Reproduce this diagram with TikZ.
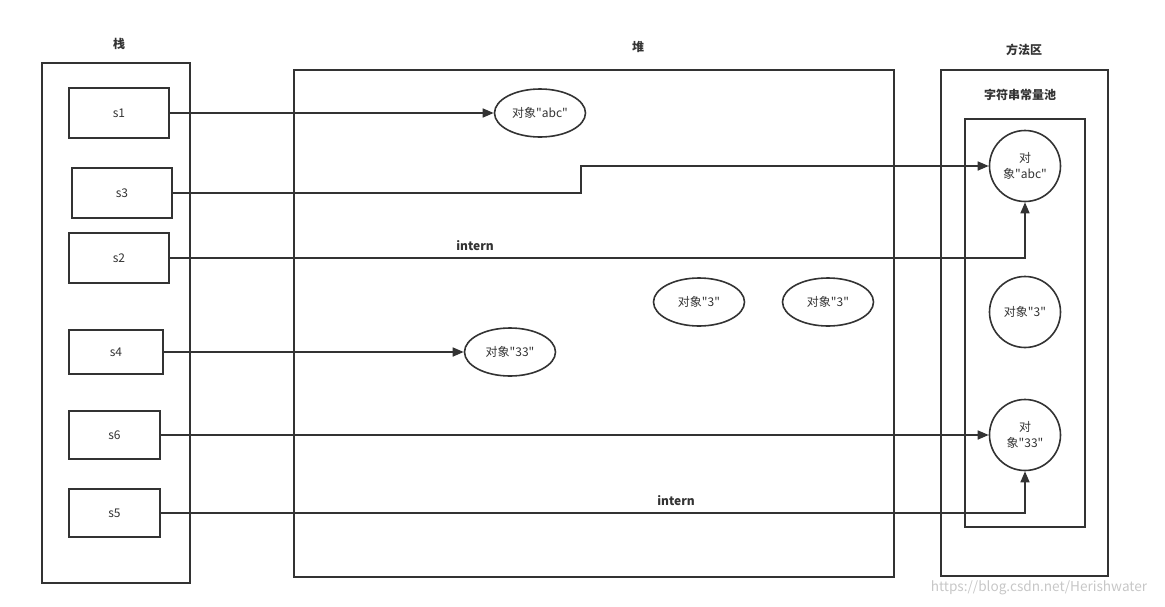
\documentclass[tikz,border=0pt]{standalone}
\usepackage{fontspec}
\setmainfont{Noto Sans CJK SC}[Ligatures=TeXOff]
\usetikzlibrary{shapes.geometric,arrows.meta}
\definecolor{ln}{HTML}{333333}
\begin{document}
\begin{tikzpicture}[x=1pt,y=-1pt,
  font=\fontsize{12}{14}\selectfont,
  box/.style={draw=ln,line width=1.6pt,inner sep=0pt},
  var/.style={box,text=ln},
  ell/.style={draw=ln,line width=1.6pt,ellipse,inner sep=0pt,minimum width=91pt,minimum height=48pt,text=ln},
  circ/.style={draw=ln,line width=1.6pt,circle,inner sep=0pt,minimum size=71pt,align=center,text=ln,font=\fontsize{12}{16}\selectfont},
  title/.style={font=\fontsize{12}{14}\selectfont\bfseries,text=ln},
  arr/.style={draw=ln,line width=1.6pt,-{Triangle[length=11pt,width=9pt]}},
  lbl/.style={font=\fontsize{12}{14}\selectfont\bfseries,text=ln,inner sep=0pt}]
\useasboundingbox (0,0) rectangle (1165,606);
% frames
\node[box,minimum width=148pt,minimum height=520pt] (stack) at (116,323) {};
\node[box,minimum width=600pt,minimum height=507pt] (heap) at (594,323.5) {};
\node[box,minimum width=167pt,minimum height=506pt] (method) at (1024.5,323) {};
\node[box,minimum width=120pt,minimum height=408pt] (pool) at (1025,323) {};
% titles
\node[title] (tstack) at (119,44) {栈};
\node[title] (theap) at (638,47) {堆};
\node[title] (tmethod) at (1024,50) {方法区};
\node[title] (tpool) at (1020,95) {字符串常量池};
% stack variables
\node[var,minimum width=100pt,minimum height=50pt] (s1) at (119,113) {s1};
\node[var,minimum width=100pt,minimum height=50pt] (s3) at (122,193) {s3};
\node[var,minimum width=100pt,minimum height=50pt] (s2) at (119,258) {s2};
\node[var,minimum width=94pt,minimum height=44pt] (s4) at (116,352) {s4};
\node[var,minimum width=91pt,minimum height=48pt] (s6) at (114.5,435) {s6};
\node[var,minimum width=91pt,minimum height=48pt] (s5) at (114.5,513) {s5};
% heap objects
\node[ell] (habc) at (540,113) {对象"abc"};
\node[ell] (h3a) at (699,302) {对象"3"};
\node[ell] (h3b) at (828,302) {对象"3"};
\node[ell] (h33) at (510,352) {对象"33"};
% pool objects
\node[circ] (pabc) at (1025,166) {对\\象"abc"};
\node[circ] (p3) at (1025,312) {对象"3"};
\node[circ] (p33) at (1025,435) {对\\象"33"};
% connectors
\draw[arr] (s1.east) -- (habc.west);
\coordinate (k3) at (581,193);
\draw[arr] (s3.east) -- (k3) |- (pabc.west);
\draw[arr] (s2.east) -| (pabc.south);
\draw[arr] (s4.east) -- (h33.west);
\draw[arr] (s6.east) -- (p33.west);
\draw[arr] (s5.east) -| (p33.south);
\node[lbl] (i1) at (475,246) {intern};
\node[lbl] (i2) at (676,501) {intern};
% watermark
\node[text=black!22,font=\fontsize{13.6}{15}\selectfont,inner sep=0pt] (wm) at (1039,588) {https://blog.csdn.net/Herishwater};
\end{tikzpicture}
\end{document}
